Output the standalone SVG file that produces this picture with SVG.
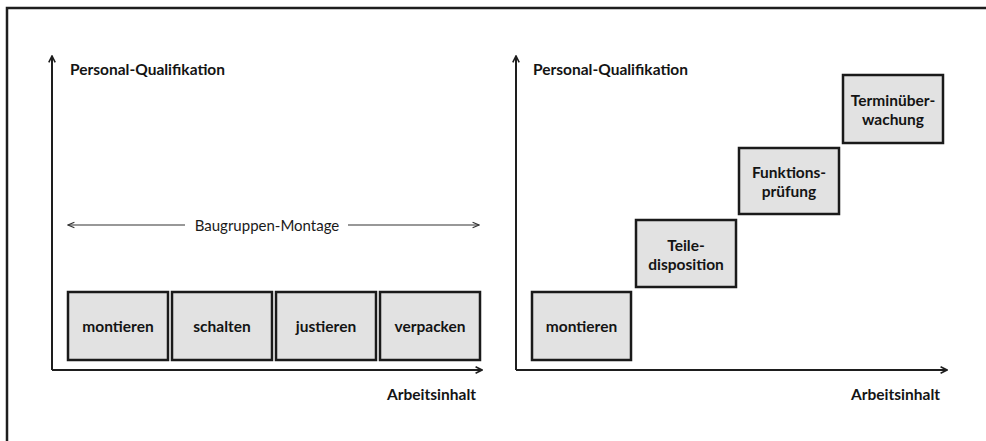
<svg xmlns="http://www.w3.org/2000/svg" width="986" height="441" viewBox="0 0 986 441">
<defs>
<style>
.frame{fill:none;stroke:#1e1e1e;stroke-width:2.5}
.axis{fill:none;stroke:#1e1e1e;stroke-width:2}
.thin{fill:none;stroke:#333;stroke-width:1.2}
.box{fill:#e2e2e2;stroke:#1a1a1a;stroke-width:2.5}
.lbl{font-family:Lato,"Liberation Sans",sans-serif;font-weight:bold;font-size:15.5px;fill:#141414}
.reg{font-family:Lato,"Liberation Sans",sans-serif;font-size:15px;fill:#1a1a1a}
.c{text-anchor:middle;dominant-baseline:central}
</style>
<marker id="ah" viewBox="0 0 10 10" refX="9" refY="5" markerWidth="8" markerHeight="8" markerUnits="userSpaceOnUse" orient="auto-start-reverse">
<path d="M1,1 L9,5 L1,9" fill="none" stroke="#1e1e1e" stroke-width="2"/>
</marker>
<marker id="ahs" viewBox="0 0 10 10" refX="9" refY="5" markerWidth="8" markerHeight="8" markerUnits="userSpaceOnUse" orient="auto-start-reverse">
<path d="M1,1.5 L9,5 L1,8.5" fill="none" stroke="#333" stroke-width="1.4"/>
</marker>
</defs>
<rect x="0" y="0" width="986" height="441" fill="#ffffff"/>
<rect class="frame" x="7" y="8" width="1000" height="460"/>

<g id="connectors">
<path class="axis" d="M52,370 V56" marker-end="url(#ah)"/>
<path class="axis" d="M52,370 H482" marker-end="url(#ah)"/>
<path class="axis" d="M516,370 V56" marker-end="url(#ah)"/>
<path class="axis" d="M516,370 H947" marker-end="url(#ah)"/>
<path class="thin" d="M185,225 H68" marker-end="url(#ahs)"/>
<path class="thin" d="M348,225 H479" marker-end="url(#ahs)"/>
</g>

<g id="labels">
<text class="lbl" x="70" y="75">Personal-Qualifikation</text>
<text class="lbl" x="533" y="75">Personal-Qualifikation</text>
<text class="lbl" x="476" y="400" text-anchor="end">Arbeitsinhalt</text>
<text class="lbl" x="940" y="400" text-anchor="end">Arbeitsinhalt</text>
<text class="reg c" x="267" y="225">Baugruppen-Montage</text>
</g>

<g id="l-montieren"><rect class="box" x="68" y="292" width="100" height="68"/><text class="lbl c" x="118" y="326">montieren</text></g>
<g id="l-schalten"><rect class="box" x="172" y="292" width="100" height="68"/><text class="lbl c" x="222" y="326">schalten</text></g>
<g id="l-justieren"><rect class="box" x="276" y="292" width="100" height="68"/><text class="lbl c" x="326" y="326">justieren</text></g>
<g id="l-verpacken"><rect class="box" x="380" y="292" width="100" height="68"/><text class="lbl c" x="430" y="326">verpacken</text></g>

<g id="r-montieren"><rect class="box" x="532" y="292" width="99" height="68"/><text class="lbl c" x="581.5" y="326">montieren</text></g>
<g id="r-teiledisposition"><rect class="box" x="636" y="220" width="100" height="67"/><text class="lbl c" x="686" y="245">Teile-</text><text class="lbl c" x="686" y="264">disposition</text></g>
<g id="r-funktionspruefung"><rect class="box" x="739" y="148" width="100" height="66"/><text class="lbl c" x="789" y="172">Funktions-</text><text class="lbl c" x="789" y="191">prüfung</text></g>
<g id="r-terminueberwachung"><rect class="box" x="843" y="75" width="100" height="68"/><text class="lbl c" x="893" y="100">Terminüber-</text><text class="lbl c" x="893" y="119">wachung</text></g>
</svg>
